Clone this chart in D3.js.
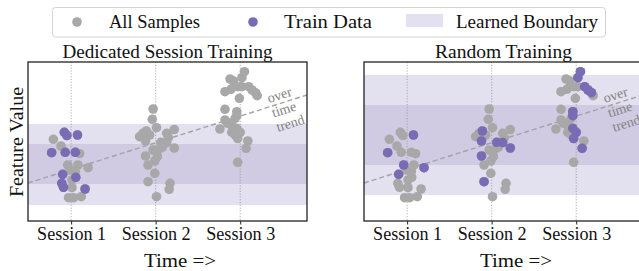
<!DOCTYPE html>
<html><head><meta charset="utf-8">
<script src="https://cdn.jsdelivr.net/npm/d3@7"></script>
<style>body{margin:0;background:#fff}svg{display:block}text{font-family:"Liberation Serif","DejaVu Serif",serif;fill:#111}</style>
</head><body><svg id="c" width="639" height="271"></svg>
<script>
// ---- data ----
const sessions = ["Session 1", "Session 2", "Session 3"];
// session 1 samples: jitter (session units) and feature value
const s1Jitter = [-0.21,-0.12,-0.08,-0.05,0.075,-0.23,-0.07,0.05,0.10,-0.04,0.08,0.20,-0.01,0.05,-0.10,0.055,0.01,-0.11,-0.09,0.165,0.01,-0.03,0.03,0.12];
const s1Value  = [8.17,7.5,8.87,8.55,8.6,6.83,6.87,6.87,6.73,5.6,5.6,5.33,5.1,4.93,4.67,4.37,4.1,3.77,3.37,3.2,3.33,2.33,2.33,2.43];
const s2Jitter = [-0.03,-0.04,0.01,-0.11,-0.19,-0.12,-0.15,-0.07,0.13,0.22,0.15,0.06,0.13,0.22,0.05,-0.03,0.01,0.08,-0.12,0.02,-0.01,-0.09,-0.01,-0.09,0.17,0.16,0.01];
const s2Value  = [11.2,10.17,9.33,9.0,8.43,8.0,8.77,8.6,8.77,9.15,8.33,7.87,7.85,7.3,7.27,7.1,6.93,7.4,6.5,6.43,6.0,5.6,4.77,3.93,3.77,3.17,2.43];
const s3Jitter = [0.05,0.02,-0.12,-0.08,0.02,-0.03,-0.11,-0.18,0.10,0.14,0.18,0.20,-0.01,-0.18,-0.04,-0.04,-0.06,-0.18,-0.15,-0.24,-0.10,-0.04,-0.10,-0.06,0.0,-0.03,0.09,0.07,-0.03];
const s3Value  = [14.93,14.33,14.2,14.0,13.43,13.43,13.17,12.93,13.43,13.1,12.83,12.53,12.27,11.17,10.93,10.53,10.27,10.1,9.77,9.2,9.53,9.27,8.87,8.6,8.87,8.25,8.0,7.27,5.87];
// training subsets (indices into each session's samples)
const dedicatedTrain = [[2,3,4,5,6,7,14,15,17,18,19], [], []];
const randomTrain    = [[4,5,9,11,14], [3,5,11,12,13,18,23], [0,1,8,9,10,14,15,21,24,25,27]];
// learned boundary bands [low, high]
const dedicatedOuter = [1.6, 9.7], dedicatedInner = [3.7, 7.7];
const randomOuter = [2.6, 14.6], randomInner = [5.6, 11.6];
// over-time trend line endpoints [time, value]
const trendLine = [[0.49, 3.8], [3.79, 12.6]];
const trendLabel = ["over", "time", "trend"];
const panelTitles = ["Dedicated Session Training", "Random Training"];
const legendLabels = ["All Samples", "Train Data", "Learned Boundary"];

// ---- drawing ----
const GRAY = "#a8a8a8", PURPLE = "#7a6bb5", OUTER = "#e3e0ef", INNER = "#d0cae3";
const svg = d3.select("#c");
const sJ = [s1Jitter, s2Jitter, s3Jitter], sV = [s1Value, s2Value, s3Value];
const samples = [];
sJ.forEach((arr, si) => arr.forEach((j, k) => samples.push({s: si, k, t: si + 1 + j, v: sV[si][k]})));

function fitText(sel, w) { sel.attr("textLength", w).attr("lengthAdjust", "spacingAndGlyphs"); return sel; }

const panels = [
  {x0: 28, title: panelTitles[0], train: dedicatedTrain, outer: dedicatedOuter, inner: dedicatedInner, titleW: 210},
  {x0: 364, title: panelTitles[1], train: randomTrain, outer: randomOuter, inner: randomInner, titleW: 137}
];
const W = 279, plotTop = 62, plotBot = 221;
const y = d3.scaleLinear().domain([0, 16]).range([plotBot, plotBot - 160]);

panels.forEach((p, pi) => {
  const x = d3.scaleLinear().domain([0.49, 3.79]).range([p.x0, p.x0 + W]);
  const g = svg.append("g");
  const clipId = "clip" + pi;
  svg.append("clipPath").attr("id", clipId).append("rect").attr("x", p.x0).attr("y", plotTop).attr("width", W).attr("height", plotBot - plotTop);
  const inner = g.append("g").attr("clip-path", `url(#${clipId})`);
  inner.append("rect").attr("x", x(0.49)).attr("width", W).attr("y", y(p.outer[1])).attr("height", y(p.outer[0]) - y(p.outer[1])).attr("fill", OUTER);
  inner.append("rect").attr("x", x(0.49)).attr("width", W).attr("y", y(p.inner[1])).attr("height", y(p.inner[0]) - y(p.inner[1])).attr("fill", INNER);
  // session grid lines
  inner.selectAll("line.grid").data(sessions).join("line")
    .attr("x1", (d, i) => x(i + 1)).attr("x2", (d, i) => x(i + 1)).attr("y1", plotTop).attr("y2", plotBot)
    .attr("stroke", "#999").attr("stroke-width", 0.8).attr("stroke-dasharray", "1.2,1.6");
  // trend
  inner.append("line").attr("x1", x(trendLine[0][0])).attr("y1", y(trendLine[0][1]))
    .attr("x2", x(trendLine[1][0])).attr("y2", y(trendLine[1][1]))
    .attr("stroke", "#a3a3a3").attr("stroke-width", 1.4).attr("stroke-dasharray", "5,3");
  const ang = Math.atan2(y(trendLine[1][1]) - y(trendLine[0][1]), x(trendLine[1][0]) - x(trendLine[0][0])) * 180 / Math.PI;
  trendLabel.forEach((w, i) => {
    const tx = x(3.34) + i * 4.5, ty = y(11.8) + i * 14.5;
    g.append("text").attr("transform", `translate(${tx},${ty}) rotate(${ang})`)
      .attr("font-size", 14).style("fill", "#858585").attr("text-anchor", "start").text(w);
  });
  // points
  inner.selectAll("circle.all").data(samples).join("circle")
    .attr("cx", d => x(d.t)).attr("cy", d => y(d.v)).attr("r", 4.8).attr("fill", GRAY);
  const tr = samples.filter(d => p.train[d.s].includes(d.k));
  inner.selectAll("circle.tr").data(tr).join("circle")
    .attr("cx", d => x(d.t)).attr("cy", d => y(d.v)).attr("r", 4.8).attr("fill", PURPLE);
  // frame
  g.append("rect").attr("x", p.x0).attr("y", plotTop).attr("width", W).attr("height", plotBot - plotTop)
    .attr("fill", "none").attr("stroke", "#222").attr("stroke-width", 1.3);
  // x axis ticks
  const ax = g.append("g").attr("transform", `translate(0,${plotBot})`)
    .call(d3.axisBottom(x).tickValues([1, 2, 3]).tickFormat((d) => sessions[d - 1]).tickSize(3.5).tickPadding(3));
  ax.select(".domain").remove();
  ax.selectAll("line").attr("stroke", "#222");
  ax.selectAll("text").attr("font-size", 18).attr("dy", null).attr("y", 19).style("font-family", '"Liberation Serif",serif').attr("fill", "#111")
    .attr("textLength", 69).attr("lengthAdjust", "spacingAndGlyphs");
  // title
  fitText(g.append("text").attr("x", p.x0 + W / 2).attr("y", 58).attr("text-anchor", "middle").attr("font-size", 18).text(p.title), p.titleW);
  // x label
  fitText(g.append("text").attr("x", p.x0 + 152).attr("y", 267).attr("text-anchor", "middle").attr("font-size", 18).text("Time =>"), 72);
});

// y label
fitText(svg.append("text").attr("transform", "translate(23,142) rotate(-90)").attr("text-anchor", "middle").attr("font-size", 18).text("Feature Value"), 110);

// legend
const lg = svg.append("g");
lg.append("rect").attr("x", 52.5).attr("y", 7.5).attr("width", 553).attr("height", 29.5).attr("rx", 3)
  .attr("fill", "#fff").attr("stroke", "#d4d4d4").attr("stroke-width", 1);
lg.append("circle").attr("cx", 77).attr("cy", 22).attr("r", 4.8).attr("fill", GRAY);
lg.append("circle").attr("cx", 253).attr("cy", 22).attr("r", 4.8).attr("fill", PURPLE);
lg.append("rect").attr("x", 406).attr("y", 14).attr("width", 37).attr("height", 13).attr("fill", OUTER);
const lx = [109, 284, 456], lw = [91, 88, 142];
legendLabels.forEach((t, i) => fitText(lg.append("text").attr("x", lx[i]).attr("y", 27.5).attr("font-size", 18).text(t), lw[i]));
</script></body></html>
